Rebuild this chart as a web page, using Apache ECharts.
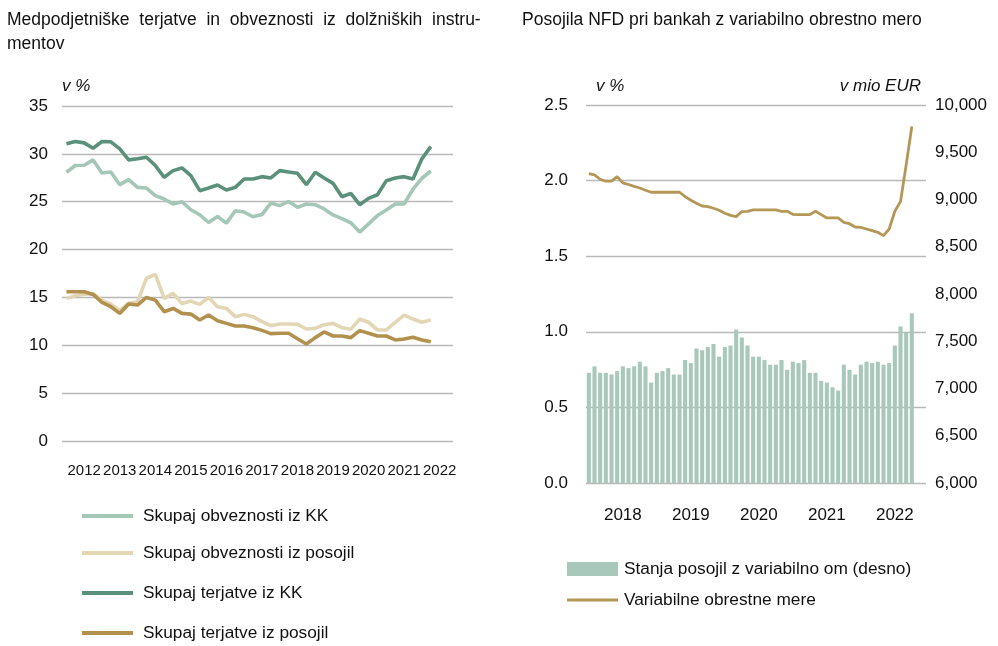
<!DOCTYPE html>
<html>
<head>
<meta charset="utf-8">
<script src="https://cdn.jsdelivr.net/npm/echarts@6/dist/echarts.min.js"></script>
<style>html,body{margin:0;padding:0;background:#fff}#c{width:998px;height:646px}</style>
</head>
<body>
<div id="c"></div>
<script>
// ---- Left chart data (quarterly, 2012Q1 - 2022Q2) ----
const leftYears = ['2012','2013','2014','2015','2016','2017','2018','2019','2020','2021','2022'];
const leftCategories = [];
leftYears.forEach(y => { for (let q = 1; q <= 4; q++) leftCategories.push(y + 'Q' + q); });
const obvKK = [28.08, 28.78, 28.81, 29.37, 28.0, 28.11, 26.78, 27.31, 26.50, 26.43, 25.63, 25.28, 24.76, 25.0, 24.16, 23.64, 22.83, 23.46, 22.76, 24.06, 23.92, 23.43, 23.66, 24.86, 24.59, 25.03, 24.41, 24.76, 24.69, 24.24, 23.62, 23.24, 22.79, 21.83, 22.69, 23.55, 24.14, 24.76, 24.76, 26.31, 27.45, 28.21];
const obvPos = [14.90, 15.17, 15.35, 15.40, 14.70, 14.30, 13.65, 14.40, 14.55, 16.98, 17.40, 14.90, 15.42, 14.37, 14.62, 14.27, 15.0, 14.03, 13.85, 12.99, 13.23, 12.99, 12.47, 12.05, 12.22, 12.22, 12.19, 11.70, 11.77, 12.15, 12.29, 11.84, 11.67, 12.74, 12.40, 11.60, 11.60, 12.40, 13.16, 12.74, 12.40, 12.64];
const terKK = [31.05, 31.29, 31.15, 30.59, 31.29, 31.26, 30.52, 29.37, 29.48, 29.65, 28.78, 27.55, 28.25, 28.53, 27.73, 26.15, 26.43, 26.75, 26.22, 26.50, 27.38, 27.38, 27.62, 27.48, 28.25, 28.11, 27.97, 26.78, 28.08, 27.48, 26.92, 25.52, 25.87, 24.69, 25.35, 25.73, 27.20, 27.48, 27.62, 27.38, 29.48, 30.77];
const terPos = [15.59, 15.59, 15.59, 15.31, 14.48, 14.03, 13.33, 14.31, 14.20, 15.0, 14.72, 13.51, 13.85, 13.33, 13.26, 12.64, 13.16, 12.57, 12.29, 12.01, 12.01, 11.84, 11.56, 11.22, 11.25, 11.25, 10.69, 10.14, 10.80, 11.39, 10.97, 10.97, 10.80, 11.53, 11.25, 10.97, 10.97, 10.56, 10.66, 10.83, 10.56, 10.38];
const leftNames = ['Skupaj obveznosti iz KK', 'Skupaj obveznosti iz posojil', 'Skupaj terjatve iz KK', 'Skupaj terjatve iz posojil'];

// ---- Right chart data (monthly, Jan 2018 - Oct 2022) ----
const rightYears = ['2018','2019','2020','2021','2022'];
const rightCategories = [];
rightYears.forEach(y => { for (let m = 1; m <= 12; m++) rightCategories.push(y + '-' + (m < 10 ? '0' + m : m)); });
const loans = [7166, 7234, 7166, 7166, 7148, 7184, 7234, 7216, 7234, 7284, 7234, 7063, 7166, 7184, 7216, 7148, 7148, 7301, 7269, 7422, 7404, 7440, 7472, 7337, 7440, 7454, 7625, 7539, 7454, 7337,
  7337, 7301, 7252, 7252, 7301, 7198, 7284, 7269, 7301, 7166, 7166, 7081, 7063, 7013, 6978, 7252, 7198, 7148, 7252, 7284, 7269, 7284, 7252, 7269, 7454, 7657, 7589, 7795];
const rates = [2.046, 2.038, 2.009, 1.996, 1.996, 2.026, 1.985, 1.974, 1.962, 1.951, 1.936,
  1.923, 1.923, 1.923, 1.923, 1.923, 1.923,
  1.894, 1.870, 1.850, 1.832, 1.828, 1.817, 1.804, 1.784, 1.770, 1.762,
  1.795, 1.797, 1.806, 1.806, 1.806, 1.806, 1.806, 1.797, 1.797,
  1.777, 1.775, 1.775, 1.775, 1.797, 1.775, 1.753, 1.753, 1.753,
  1.724, 1.715, 1.693, 1.691, 1.680, 1.669, 1.658, 1.636, 1.680, 1.797, 1.861, 2.104, 2.358];
const rightNames = ['Stanja posojil z variabilno om (desno)', 'Variabilne obrestne mere'];

const C = { obvKK: '#a4c7b8', obvPos: '#e2d6b4', terKK: '#5b917a', terPos: '#b2914f', bar: '#a8c8bb', rate: '#b49656' };
const FONT = 'Liberation Sans, Arial, sans-serif';
const TXT = '#111';
const gridLine = { show: true, lineStyle: { color: '#b9b9b9', width: 1.3 } };

const chart = echarts.init(document.getElementById('c'), null, { renderer: 'canvas' });
const lineSeries = (name, data, color) => ({
  name, type: 'line', data, xAxisIndex: 0, yAxisIndex: 0, showSymbol: false, symbol: 'none',
  lineStyle: { color, width: 3.6 }, itemStyle: { color }, animation: false
});
const legendText = { fontSize: 17.3, color: TXT, lineHeight: 20, fontFamily: FONT };
const leftLegendTops = [506, 543, 583, 623];
const leftLegends = leftNames.map((n, i) => ({
  left: 82, top: leftLegendTops[i], padding: 0, itemWidth: 51, itemHeight: 4, icon: 'rect', itemGap: 0,
  data: [n], textStyle: Object.assign({ padding: [0, 0, 0, 5] }, legendText)
}));

chart.setOption({
  animation: false,
  textStyle: { fontFamily: FONT, color: TXT },
  title: [
    { text: 'Medpodjetniške  terjatve  in  obveznosti  iz  dolžniških  instru-\nmentov', left: 7, top: 8, padding: 0,
      textStyle: { fontSize: 17.5, fontWeight: 'normal', color: TXT, lineHeight: 24, fontFamily: FONT } },
    { text: 'Posojila NFD pri bankah z variabilno obrestno mero', left: 522, top: 8, padding: 0,
      textStyle: { fontSize: 17.5, fontWeight: 'normal', color: TXT, lineHeight: 24, fontFamily: FONT } }
  ],
  graphic: [
    { type: 'text', left: 62, top: 78, style: { text: 'v %', font: 'italic 17px ' + FONT, fill: TXT } },
    { type: 'text', left: 596, top: 78, style: { text: 'v %', font: 'italic 17px ' + FONT, fill: TXT } },
    { type: 'text', right: 77, top: 78, style: { text: 'v mio EUR', font: 'italic 17px ' + FONT, fill: TXT } }
  ],
  grid: [
    { left: 62, top: 106, width: 391, height: 335 },
    { left: 586, top: 105, width: 340, height: 378 }
  ],
  xAxis: [
    { type: 'category', gridIndex: 0, data: leftCategories, boundaryGap: true,
      axisLine: { show: false }, axisTick: { show: false },
      axisLabel: { interval: (i) => i % 4 === 2, formatter: (v) => v.slice(0, 4), fontSize: 15, color: TXT, margin: 22, fontFamily: FONT } },
    { type: 'category', gridIndex: 1, data: rightCategories, boundaryGap: true,
      axisLine: { show: false }, axisTick: { show: false },
      axisLabel: { interval: (i) => i % 12 === 6, formatter: (v) => v.slice(0, 4), fontSize: 17, color: TXT, margin: 24, fontFamily: FONT } }
  ],
  yAxis: [
    { type: 'value', gridIndex: 0, min: 0, max: 35, interval: 5,
      axisLine: { show: false }, axisTick: { show: false }, splitLine: gridLine,
      axisLabel: { fontSize: 17, color: TXT, margin: 14, fontFamily: FONT } },
    { type: 'value', gridIndex: 1, min: 0, max: 2.5, interval: 0.5, position: 'left',
      axisLine: { show: false }, axisTick: { show: false }, splitLine: gridLine,
      axisLabel: { fontSize: 17, color: TXT, margin: 18, formatter: (v) => v.toFixed(1), fontFamily: FONT } },
    { type: 'value', gridIndex: 1, min: 6000, max: 10000, interval: 500, position: 'right',
      axisLine: { show: false }, axisTick: { show: false }, splitLine: { show: false },
      axisLabel: { fontSize: 17, color: TXT, margin: 9, formatter: (v) => v.toLocaleString('en-US'), fontFamily: FONT } }
  ],
  legend: leftLegends.concat([
    { left: 567, top: 559, padding: 0, itemWidth: 51, itemHeight: 14, icon: 'rect',
      data: [rightNames[0]], textStyle: Object.assign({ padding: [0, 0, 0, 1] }, legendText) },
    { left: 567, top: 590, padding: 0, itemWidth: 51, itemHeight: 3, icon: 'rect',
      data: [rightNames[1]], textStyle: Object.assign({ padding: [0, 0, 0, 1] }, legendText) }
  ]),
  series: [
    lineSeries(leftNames[0], obvKK, C.obvKK),
    lineSeries(leftNames[1], obvPos, C.obvPos),
    lineSeries(leftNames[2], terKK, C.terKK),
    lineSeries(leftNames[3], terPos, C.terPos),
    { name: rightNames[0], type: 'bar', xAxisIndex: 1, yAxisIndex: 2, data: loans, barWidth: '72%',
      itemStyle: { color: C.bar }, z: 1 },
    { name: rightNames[1], type: 'line', xAxisIndex: 1, yAxisIndex: 1, data: rates, showSymbol: false, symbol: 'none',
      lineStyle: { color: C.rate, width: 2.8 }, itemStyle: { color: C.rate }, z: 3 }
  ]
});
</script>
</body>
</html>
